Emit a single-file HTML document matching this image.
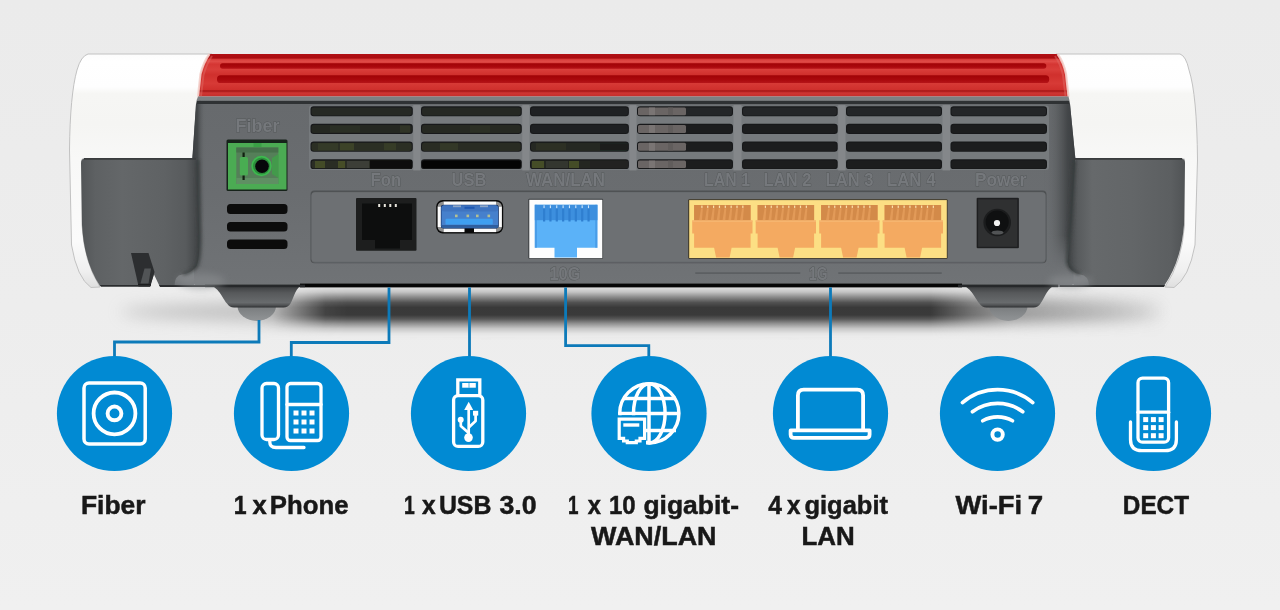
<!DOCTYPE html>
<html><head><meta charset="utf-8"><title>Router ports</title>
<style>html,body{margin:0;padding:0;background:#ececec;overflow:hidden}svg{display:block}text{font-family:"Liberation Sans",sans-serif;font-weight:bold}</style></head><body>
<svg width="1280" height="610" viewBox="0 0 1280 610">
<defs>
<linearGradient id="gRed" x1="0" y1="54" x2="0" y2="96.6" gradientUnits="userSpaceOnUse"><stop offset="0" stop-color="#b01014"/><stop offset="0.095" stop-color="#ab0c10"/><stop offset="0.125" stop-color="#d63a37"/><stop offset="0.17" stop-color="#e04c48"/><stop offset="0.24" stop-color="#d53633"/><stop offset="0.36" stop-color="#d93e3a"/><stop offset="0.49" stop-color="#d0302d"/><stop offset="0.69" stop-color="#d73a36"/><stop offset="0.84" stop-color="#cf2f2c"/><stop offset="0.86" stop-color="#ab1a1a"/><stop offset="0.89" stop-color="#b22121"/><stop offset="0.91" stop-color="#cf3633"/><stop offset="1" stop-color="#c42e2c"/></linearGradient>
<linearGradient id="gGroove" x1="0" y1="0" x2="0" y2="1"><stop offset="0" stop-color="#a00306"/><stop offset="0.6" stop-color="#aa090d"/><stop offset="1" stop-color="#b61418"/></linearGradient>
<linearGradient id="gShadow" x1="0" y1="0" x2="0" y2="1"><stop offset="0" stop-color="#e2e2e2"/><stop offset="0.10" stop-color="#c4c4c4"/><stop offset="0.20" stop-color="#8c8c8c"/><stop offset="0.31" stop-color="#525252"/><stop offset="0.41" stop-color="#393939"/><stop offset="0.56" stop-color="#3a3a3a"/><stop offset="0.64" stop-color="#585858"/><stop offset="0.73" stop-color="#909090"/><stop offset="0.83" stop-color="#c6c6c6"/><stop offset="0.93" stop-color="#e4e4e4"/><stop offset="1" stop-color="#ededed"/></linearGradient>
<linearGradient id="gShMask" x1="250" y1="0" x2="1170" y2="0" gradientUnits="userSpaceOnUse"><stop offset="0" stop-color="#000"/><stop offset="0.025" stop-color="#222"/><stop offset="0.048" stop-color="#777"/><stop offset="0.082" stop-color="#eee"/><stop offset="0.105" stop-color="#fff"/><stop offset="0.74" stop-color="#fff"/><stop offset="0.785" stop-color="#999"/><stop offset="0.83" stop-color="#4a4a4a"/><stop offset="0.88" stop-color="#333"/><stop offset="0.94" stop-color="#1a1a1a"/><stop offset="1" stop-color="#000"/></linearGradient>
<linearGradient id="gEdgeM" x1="0" y1="104" x2="0" y2="286" gradientUnits="userSpaceOnUse"><stop offset="0" stop-color="#fff"/><stop offset="0.72" stop-color="#fff"/><stop offset="0.9" stop-color="#000"/><stop offset="1" stop-color="#000"/></linearGradient>
<mask id="mEdge" maskUnits="userSpaceOnUse" x="190" y="100" width="900" height="190"><rect x="190" y="100" width="900" height="190" fill="url(#gEdgeM)"/></mask>
<mask id="mSh" maskUnits="userSpaceOnUse" x="240" y="280" width="940" height="70"><rect x="250" y="280" width="920" height="70" fill="url(#gShMask)"/></mask>
<filter id="blur8" x="-20%" y="-50%" width="140%" height="200%"><feGaussianBlur stdDeviation="8"/></filter>
<filter id="blur3" x="-40%" y="-100%" width="180%" height="300%"><feGaussianBlur stdDeviation="3"/></filter>
<filter id="blurE" filterUnits="userSpaceOnUse" x="150" y="140" width="960" height="170"><feGaussianBlur stdDeviation="1.6"/></filter>
<filter id="blurH" filterUnits="userSpaceOnUse" x="140" y="240" width="1000" height="70"><feGaussianBlur stdDeviation="3.5"/></filter>
<filter id="blur1" x="-10%" y="-10%" width="120%" height="120%"><feGaussianBlur stdDeviation="0.6"/></filter>
<linearGradient id="gSideL" x1="81" y1="0" x2="200" y2="0" gradientUnits="userSpaceOnUse"><stop offset="0" stop-color="#525557"/><stop offset="0.12" stop-color="#5e6163"/><stop offset="0.35" stop-color="#646769"/><stop offset="0.7" stop-color="#5f6264"/><stop offset="0.88" stop-color="#585b5d"/><stop offset="0.955" stop-color="#484b4d"/><stop offset="1" stop-color="#3f4244"/></linearGradient>
<linearGradient id="gSideR" x1="1185" y1="0" x2="1066" y2="0" gradientUnits="userSpaceOnUse"><stop offset="0" stop-color="#505355"/><stop offset="0.12" stop-color="#5c5f61"/><stop offset="0.45" stop-color="#636668"/><stop offset="0.78" stop-color="#66696b"/><stop offset="0.9" stop-color="#585b5d"/><stop offset="0.96" stop-color="#484b4d"/><stop offset="1" stop-color="#3f4244"/></linearGradient>
<linearGradient id="gEdgeL" x1="193" y1="0" x2="206" y2="0" gradientUnits="userSpaceOnUse"><stop offset="0" stop-color="#3b3e40" stop-opacity="1"/><stop offset="0.35" stop-color="#3f4244" stop-opacity="0.85"/><stop offset="1" stop-color="#6c7072" stop-opacity="0"/></linearGradient>
<linearGradient id="gEdgeR" x1="1075" y1="0" x2="1044" y2="0" gradientUnits="userSpaceOnUse"><stop offset="0" stop-color="#3b3e40" stop-opacity="1"/><stop offset="0.25" stop-color="#404345" stop-opacity="0.9"/><stop offset="0.6" stop-color="#55585a" stop-opacity="0.5"/><stop offset="1" stop-color="#6c7072" stop-opacity="0"/></linearGradient>
<linearGradient id="gCap" x1="0" y1="54" x2="0" y2="288" gradientUnits="userSpaceOnUse"><stop offset="0" stop-color="#fcfcfc"/><stop offset="0.03" stop-color="#ffffff"/><stop offset="0.14" stop-color="#fefefe"/><stop offset="0.17" stop-color="#f6f6f4"/><stop offset="0.3" stop-color="#f5f5f3"/><stop offset="0.45" stop-color="#f8f8f7"/><stop offset="0.8" stop-color="#fbfbfb"/><stop offset="0.93" stop-color="#efefef"/><stop offset="1" stop-color="#dedede"/></linearGradient>
<linearGradient id="gLip" x1="0" y1="270" x2="0" y2="287" gradientUnits="userSpaceOnUse"><stop offset="0" stop-color="#808386"/><stop offset="0.5" stop-color="#797c7f"/><stop offset="1" stop-color="#6c6f72"/></linearGradient>
<linearGradient id="gFoot" x1="0" y1="0" x2="0" y2="1"><stop offset="0" stop-color="#36383a"/><stop offset="0.35" stop-color="#57595b"/><stop offset="0.78" stop-color="#686b6d"/><stop offset="0.9" stop-color="#505254"/><stop offset="1" stop-color="#2e3032"/></linearGradient>
<linearGradient id="gBall" x1="0" y1="0" x2="0" y2="1"><stop offset="0" stop-color="#6c6f71"/><stop offset="0.5" stop-color="#787b7d"/><stop offset="1" stop-color="#929597"/></linearGradient>
<linearGradient id="gBody" x1="0" y1="0" x2="0" y2="1"><stop offset="0" stop-color="#676a6d"/><stop offset="0.5" stop-color="#6a6d70"/><stop offset="1" stop-color="#707376"/></linearGradient>
<linearGradient id="gBg" x1="0" y1="0" x2="0" y2="1"><stop offset="0" stop-color="#ebebeb"/><stop offset="0.5" stop-color="#ededed"/><stop offset="1" stop-color="#f0f0f0"/></linearGradient>
</defs>
<rect width="1280" height="610" fill="url(#gBg)"/>
<ellipse cx="640" cy="312" rx="520" ry="14" fill="#9a9a9a" opacity="0.55" filter="url(#blur8)"/>
<g mask="url(#mSh)"><rect x="250" y="287" width="920" height="50" fill="url(#gShadow)"/></g>
<path d="M88 54 L212 54 L200 100 L194 159 L82 159 L82 225 Q84 262 100 287 L91 287.5 Q77 278 71.5 245 L69.5 150 Q70 95 77 70 Q81 56 88 54 Z" fill="url(#gCap)" stroke="#c2c2c2" stroke-width="1"/>
<path d="M1180 54 L1056 54 L1067 100 L1074 159 L1184.5 159 L1184.5 225 Q1182 262 1165 287 L1174 287.5 Q1189 278 1195 245 L1197.5 160 Q1197 95 1189 70 Q1186 56 1180 54 Z" fill="url(#gCap)" stroke="#c2c2c2" stroke-width="1"/>
<ellipse cx="256.75" cy="306" rx="19.25" ry="15" fill="url(#gBall)"/>
<path d="M208 285 C218.45 286 222.25 298 227 303.5 Q229.5 307.5 234 307.5 L283.5 307.5 Q288 307.5 290.5 303.5 C293.625 298 296.125 286 303 285 Z" fill="url(#gFoot)"/>
<ellipse cx="1008.25" cy="306" rx="19.25" ry="15" fill="url(#gBall)"/>
<path d="M960 285 C970.725 286 974.625 298 979.5 303.5 Q982 307.5 986.5 307.5 L1033.5 307.5 Q1038 307.5 1040.5 303.5 C1044.62 298 1047.92 286 1057 285 Z" fill="url(#gFoot)"/>
<path d="M209.5 54 L1057.5 54 Q1063.5 62 1066 74 L1068.5 96.6 L198 96.6 L200.5 74 Q203.5 62 209.5 54 Z" fill="url(#gRed)"/>
<rect x="220" y="63.3" width="826.3" height="5.5" rx="2.7" fill="url(#gGroove)"/>
<rect x="217" y="75.2" width="832.2" height="7.8" rx="3.6" fill="url(#gGroove)"/>
<path d="M209.5 54 Q203.5 62 200.5 74 L198 96.6" fill="none" stroke="#f3cfca" stroke-width="2.2" opacity="0.9"/>
<path d="M1057.5 54 Q1063.5 62 1066 74 L1068.5 96.6" fill="none" stroke="#f3cfca" stroke-width="2.2" opacity="0.9"/>
<path d="M212 56 Q206.5 64 203.5 75 L201 96" fill="none" stroke="#e06a64" stroke-width="2" opacity="0.5"/>
<path d="M1055 56 Q1060.5 64 1063 75 L1065.5 96" fill="none" stroke="#e06a64" stroke-width="2" opacity="0.5"/>
<path d="M198 96.5 L1068.5 96.5 L1069.5 100.6 L196.5 100.6 Z" fill="#7c8083"/>
<path d="M196.8 100.4 L1069.3 100.4 L1070 104.6 L196 104.6 Z" fill="#2f3234"/>
<clipPath id="cBody"><path d="M196 104 L1070 104 L1075.3 158 L1074.5 284 L1066 287 L200 287 L193 284 L192.4 158 Z"/></clipPath>
<path d="M196 104 L1070 104 L1075.3 158 L1074.5 284 L1066 287 L200 287 L193 284 L192.4 158 Z" fill="url(#gBody)"/>
<g clip-path="url(#cBody)"><g mask="url(#mEdge)"><rect x="192" y="104" width="18" height="181" fill="url(#gEdgeL)"/>
<rect x="1044" y="104" width="32" height="181" fill="url(#gEdgeR)"/></g></g>
<rect x="300" y="283.6" width="662" height="3.8" fill="#060606"/>
<rect x="205" y="284.6" width="100" height="2.6" fill="#26282a"/>
<rect x="958" y="284.6" width="100" height="2.6" fill="#26282a"/>
<path d="M194 287 L194 258 L172 270 L172 287 Z" fill="url(#gLip)"/>
<path d="M1073.5 287 L1073.5 258 L1092 270 L1092 287 Z" fill="url(#gLip)"/>
<path d="M85 158.5 L192.4 158.5 L197 158.5 L199.5 240 Q199.5 262 196 267 Q190 274 182 274.5 Q174.5 275.5 174.5 286 L159.5 286 L154 274.5 L150 286 L100 286 Q84 262 82 225 L81 163 Q81 158.5 85 158.5 Z" fill="url(#gSideL)"/>
<path d="M197.5 160 L199.5 240 Q199.5 262 196 267 Q190 273 183 274" fill="none" stroke="#393c3e" stroke-width="4" opacity="0.75" filter="url(#blurE)"/>
<path d="M131 253 L148.5 253 L154.5 272 L150.5 286 L138.5 286 Z" fill="#2c2e30"/>
<path d="M144.5 268.5 L151 268.5 L148.5 283.5 L140.5 283.5 Z" fill="#515456"/>
<path d="M138 284 L151 284 L150.5 286.6 L138.5 286.6 Z" fill="#1d1e1f"/>
<path d="M1181 158.5 L1075.3 158.5 L1071.5 220 Q1068 255 1067.5 262 Q1069 272 1080 274.5 Q1089 275.5 1089 286 L1164 286 Q1181 262 1184 225 L1185 163 Q1185 158.5 1181 158.5 Z" fill="url(#gSideR)"/>
<path d="M1074.5 160 L1071 220 Q1068 250 1067.5 262 Q1069 271 1080 274" fill="none" stroke="#393c3e" stroke-width="4" opacity="0.75" filter="url(#blurE)"/>
<rect x="84" y="158" width="112" height="1.8" fill="#3a3c3e"/>
<rect x="1074" y="158" width="108" height="1.8" fill="#3a3c3e"/>
<path d="M100 285 L150 285 L150 286.8 L101 286.8 Z" fill="#2a2c2e"/>
<path d="M159 285 L215 285 L215 287 L160 287 Z" fill="#2a2c2e"/>
<path d="M1060 285 L1165 285 L1164 287 L1060 287 Z" fill="#2a2c2e"/>
<ellipse cx="201" cy="281" rx="24" ry="7.5" fill="#8a8d90" opacity="0.6" filter="url(#blurH)"/>
<ellipse cx="1070" cy="281.5" rx="22" ry="6.5" fill="#8a8d90" opacity="0.6" filter="url(#blurH)"/>
<rect x="309" y="105.5" width="740" height="64.5" rx="3" fill="#767a7d" filter="url(#blur1)"/>
<rect x="413.3" y="105" width="7.2" height="65.5" fill="#8a8d90" opacity="0.7"/>
<rect x="522.3" y="105" width="7.2" height="65.5" fill="#8a8d90" opacity="0.7"/>
<rect x="629.4" y="105" width="7.1" height="65.5" fill="#8a8d90" opacity="0.7"/>
<rect x="733.5" y="105" width="8" height="65.5" fill="#8a8d90" opacity="0.7"/>
<rect x="838.2" y="105" width="7.3" height="65.5" fill="#8a8d90" opacity="0.7"/>
<rect x="942.5" y="105" width="7.5" height="65.5" fill="#8a8d90" opacity="0.7"/>
<rect x="310.5" y="106.2" width="102.3" height="10" rx="3.2" fill="#17181a"/>
<rect x="311.5" y="107.4" width="100.3" height="8" rx="2.4" fill="#262924"/>
<rect x="310.5" y="123.8" width="102.3" height="10.1" rx="3.2" fill="#17181a"/>
<rect x="311.5" y="125" width="100.3" height="8.1" rx="2.4" fill="#242721"/>
<rect x="310.5" y="141.6" width="102.3" height="10.2" rx="3.2" fill="#17181a"/>
<rect x="311.5" y="142.8" width="100.3" height="8.2" rx="2.4" fill="#2b2f24"/>
<rect x="310.5" y="159.3" width="102.3" height="9.8" rx="3.2" fill="#17181a"/>
<rect x="311.5" y="160.5" width="100.3" height="7.8" rx="2.4" fill="#2a2d24"/>
<rect x="421" y="106.2" width="100.8" height="10" rx="3.2" fill="#17181a"/>
<rect x="422" y="107.4" width="98.8" height="8" rx="2.4" fill="#252823"/>
<rect x="421" y="123.8" width="100.8" height="10.1" rx="3.2" fill="#17181a"/>
<rect x="422" y="125" width="98.8" height="8.1" rx="2.4" fill="#262922"/>
<rect x="421" y="141.6" width="100.8" height="10.2" rx="3.2" fill="#17181a"/>
<rect x="422" y="142.8" width="98.8" height="8.2" rx="2.4" fill="#292c23"/>
<rect x="421" y="159.3" width="100.8" height="9.8" rx="3.2" fill="#17181a"/>
<rect x="422" y="160.5" width="98.8" height="7.8" rx="2.4" fill="#040404"/>
<rect x="530" y="106.2" width="98.9" height="10" rx="3.2" fill="#17181a"/>
<rect x="531" y="107.4" width="96.9" height="8" rx="2.4" fill="#1f2123"/>
<rect x="530" y="123.8" width="98.9" height="10.1" rx="3.2" fill="#17181a"/>
<rect x="531" y="125" width="96.9" height="8.1" rx="2.4" fill="#1e2022"/>
<rect x="530" y="141.6" width="98.9" height="10.2" rx="3.2" fill="#17181a"/>
<rect x="531" y="142.8" width="96.9" height="8.2" rx="2.4" fill="#252822"/>
<rect x="530" y="159.3" width="98.9" height="9.8" rx="3.2" fill="#17181a"/>
<rect x="531" y="160.5" width="96.9" height="7.8" rx="2.4" fill="#242721"/>
<rect x="637" y="106.2" width="96" height="10" rx="3.2" fill="#17181a"/>
<rect x="638" y="107.4" width="94" height="8" rx="2.4" fill="#242628"/>
<rect x="637" y="123.8" width="96" height="10.1" rx="3.2" fill="#17181a"/>
<rect x="638" y="125" width="94" height="8.1" rx="2.4" fill="#1c1d1e"/>
<rect x="637" y="141.6" width="96" height="10.2" rx="3.2" fill="#17181a"/>
<rect x="638" y="142.8" width="94" height="8.2" rx="2.4" fill="#1c1d1e"/>
<rect x="637" y="159.3" width="96" height="9.8" rx="3.2" fill="#17181a"/>
<rect x="638" y="160.5" width="94" height="7.8" rx="2.4" fill="#1c1d1e"/>
<rect x="742" y="106.2" width="95.7" height="10" rx="3.2" fill="#17181a"/>
<rect x="743" y="107.4" width="93.7" height="8" rx="2.4" fill="#242628"/>
<rect x="742" y="123.8" width="95.7" height="10.1" rx="3.2" fill="#17181a"/>
<rect x="743" y="125" width="93.7" height="8.1" rx="2.4" fill="#1c1d1e"/>
<rect x="742" y="141.6" width="95.7" height="10.2" rx="3.2" fill="#17181a"/>
<rect x="743" y="142.8" width="93.7" height="8.2" rx="2.4" fill="#1c1d1e"/>
<rect x="742" y="159.3" width="95.7" height="9.8" rx="3.2" fill="#17181a"/>
<rect x="743" y="160.5" width="93.7" height="7.8" rx="2.4" fill="#1c1d1e"/>
<rect x="846" y="106.2" width="96" height="10" rx="3.2" fill="#17181a"/>
<rect x="847" y="107.4" width="94" height="8" rx="2.4" fill="#242628"/>
<rect x="846" y="123.8" width="96" height="10.1" rx="3.2" fill="#17181a"/>
<rect x="847" y="125" width="94" height="8.1" rx="2.4" fill="#1c1d1e"/>
<rect x="846" y="141.6" width="96" height="10.2" rx="3.2" fill="#17181a"/>
<rect x="847" y="142.8" width="94" height="8.2" rx="2.4" fill="#1c1d1e"/>
<rect x="846" y="159.3" width="96" height="9.8" rx="3.2" fill="#17181a"/>
<rect x="847" y="160.5" width="94" height="7.8" rx="2.4" fill="#1c1d1e"/>
<rect x="950.5" y="106.2" width="96.5" height="10" rx="3.2" fill="#17181a"/>
<rect x="951.5" y="107.4" width="94.5" height="8" rx="2.4" fill="#242628"/>
<rect x="950.5" y="123.8" width="96.5" height="10.1" rx="3.2" fill="#17181a"/>
<rect x="951.5" y="125" width="94.5" height="8.1" rx="2.4" fill="#1c1d1e"/>
<rect x="950.5" y="141.6" width="96.5" height="10.2" rx="3.2" fill="#17181a"/>
<rect x="951.5" y="142.8" width="94.5" height="8.2" rx="2.4" fill="#1c1d1e"/>
<rect x="950.5" y="159.3" width="96.5" height="9.8" rx="3.2" fill="#17181a"/>
<rect x="951.5" y="160.5" width="94.5" height="7.8" rx="2.4" fill="#1c1d1e"/>
<rect x="315" y="161" width="10" height="7" fill="#6d7c2e" opacity="0.38" filter="url(#blur1)"/>
<rect x="338" y="161" width="7" height="7" fill="#74832f" opacity="0.38" filter="url(#blur1)"/>
<rect x="347" y="161" width="22" height="7" fill="#5a5c58" opacity="0.38" filter="url(#blur1)"/>
<rect x="370" y="160.5" width="42" height="8.2" fill="#0a0a0a" opacity="1" filter="url(#blur1)"/>
<rect x="318" y="143.2" width="20" height="7" fill="#4a5230" opacity="0.304" filter="url(#blur1)"/>
<rect x="340" y="143.2" width="14" height="7" fill="#5f6c30" opacity="0.342" filter="url(#blur1)"/>
<rect x="384" y="143.2" width="12" height="7" fill="#566030" opacity="0.266" filter="url(#blur1)"/>
<rect x="330" y="125.5" width="30" height="7" fill="#3e4430" opacity="0.266" filter="url(#blur1)"/>
<rect x="400" y="125.5" width="10" height="7" fill="#4b5331" opacity="0.304" filter="url(#blur1)"/>
<rect x="440" y="143.2" width="18" height="7" fill="#505a30" opacity="0.266" filter="url(#blur1)"/>
<rect x="470" y="125.5" width="20" height="7" fill="#434a30" opacity="0.228" filter="url(#blur1)"/>
<rect x="532" y="161" width="12" height="7" fill="#7c8c30" opacity="0.38" filter="url(#blur1)"/>
<rect x="569" y="161" width="10" height="7" fill="#7a8a30" opacity="0.38" filter="url(#blur1)"/>
<rect x="546" y="161" width="22" height="7" fill="#55584f" opacity="0.304" filter="url(#blur1)"/>
<rect x="600" y="143.2" width="28" height="7" fill="#1c1e1f" opacity="0.9" filter="url(#blur1)"/>
<rect x="590" y="161" width="38" height="7" fill="#202223" opacity="0.8" filter="url(#blur1)"/>
<rect x="536" y="143.2" width="30" height="7" fill="#48502f" opacity="0.228" filter="url(#blur1)"/>
<rect x="638" y="107.4" width="48" height="7.8" rx="1.5" fill="#6a6564"/>
<rect x="649" y="107.4" width="6" height="7.8" fill="#7e7978" opacity="0.8"/>
<rect x="668" y="107.4" width="5" height="7.8" fill="#5f5b5a" opacity="0.8"/>
<rect x="638" y="125" width="48" height="7.9" rx="1.5" fill="#6a6564"/>
<rect x="649" y="125" width="6" height="7.9" fill="#7e7978" opacity="0.8"/>
<rect x="668" y="125" width="5" height="7.9" fill="#5f5b5a" opacity="0.8"/>
<rect x="638" y="142.8" width="48" height="8" rx="1.5" fill="#6a6564"/>
<rect x="649" y="142.8" width="6" height="8" fill="#7e7978" opacity="0.8"/>
<rect x="668" y="142.8" width="5" height="8" fill="#5f5b5a" opacity="0.8"/>
<rect x="638" y="160.5" width="48" height="7.6" rx="1.5" fill="#6a6564"/>
<rect x="649" y="160.5" width="6" height="7.6" fill="#7e7978" opacity="0.8"/>
<rect x="668" y="160.5" width="5" height="7.6" fill="#5f5b5a" opacity="0.8"/>
<rect x="227" y="204" width="60.5" height="10" rx="3.5" fill="#0c0c0c"/>
<rect x="227" y="222" width="60.5" height="9.6" rx="3.5" fill="#0c0c0c"/>
<rect x="227" y="239.6" width="60.5" height="9.4" rx="3.5" fill="#0c0c0c"/>
<rect x="310.5" y="190.6" width="736" height="72.6" rx="4" fill="#4f5254"/>
<rect x="311.5" y="192.2" width="734" height="70.6" rx="3.5" fill="#626568"/>
<rect x="311.5" y="192.2" width="734" height="69.6" rx="3.5" fill="#6d7073"/>
<text x="235.5" y="132" font-size="19" textLength="44" lengthAdjust="spacingAndGlyphs" fill="#75787b" stroke="#525558" stroke-width="1" stroke-opacity="0.9" paint-order="stroke" style="font-weight:bold" filter="url(#blur1)">Fiber</text>
<text x="370.5" y="186.3" font-size="19" textLength="30.7" lengthAdjust="spacingAndGlyphs" fill="#75787b" stroke="#525558" stroke-width="1" stroke-opacity="0.9" paint-order="stroke" style="font-weight:bold" filter="url(#blur1)">Fon</text>
<text x="451.5" y="186.3" font-size="19" textLength="34.8" lengthAdjust="spacingAndGlyphs" fill="#75787b" stroke="#525558" stroke-width="1" stroke-opacity="0.9" paint-order="stroke" style="font-weight:bold" filter="url(#blur1)">USB</text>
<text x="526" y="186.3" font-size="19" textLength="79" lengthAdjust="spacingAndGlyphs" fill="#75787b" stroke="#525558" stroke-width="1" stroke-opacity="0.9" paint-order="stroke" style="font-weight:bold" filter="url(#blur1)">WAN/LAN</text>
<text x="704" y="186.3" font-size="19" textLength="46" lengthAdjust="spacingAndGlyphs" fill="#75787b" stroke="#525558" stroke-width="1" stroke-opacity="0.9" paint-order="stroke" style="font-weight:bold" filter="url(#blur1)">LAN 1</text>
<text x="763.5" y="186.3" font-size="19" textLength="48" lengthAdjust="spacingAndGlyphs" fill="#75787b" stroke="#525558" stroke-width="1" stroke-opacity="0.9" paint-order="stroke" style="font-weight:bold" filter="url(#blur1)">LAN 2</text>
<text x="825.5" y="186.3" font-size="19" textLength="48" lengthAdjust="spacingAndGlyphs" fill="#75787b" stroke="#525558" stroke-width="1" stroke-opacity="0.9" paint-order="stroke" style="font-weight:bold" filter="url(#blur1)">LAN 3</text>
<text x="887" y="186.3" font-size="19" textLength="48.5" lengthAdjust="spacingAndGlyphs" fill="#75787b" stroke="#525558" stroke-width="1" stroke-opacity="0.9" paint-order="stroke" style="font-weight:bold" filter="url(#blur1)">LAN 4</text>
<text x="975" y="186.3" font-size="19" textLength="51.5" lengthAdjust="spacingAndGlyphs" fill="#75787b" stroke="#525558" stroke-width="1" stroke-opacity="0.9" paint-order="stroke" style="font-weight:bold" filter="url(#blur1)">Power</text>
<text x="549.5" y="279.6" font-size="18" textLength="31" lengthAdjust="spacingAndGlyphs" fill="#75787b" stroke="#525558" stroke-width="1" stroke-opacity="0.9" paint-order="stroke" style="font-weight:bold" filter="url(#blur1)">10G</text>
<text x="809" y="279.6" font-size="18" textLength="18.5" lengthAdjust="spacingAndGlyphs" fill="#75787b" stroke="#525558" stroke-width="1" stroke-opacity="0.9" paint-order="stroke" style="font-weight:bold" filter="url(#blur1)">1G</text>
<rect x="695" y="272.3" width="105.5" height="1.6" rx="0.8" fill="#5c5f62"/>
<rect x="838" y="272.3" width="104" height="1.6" rx="0.8" fill="#5c5f62"/>
<rect x="226.5" y="139.5" width="61" height="51.5" rx="1.5" fill="#16231a"/>
<rect x="228" y="143" width="58.5" height="46.5" fill="#4bab53"/>
<rect x="236.3" y="147.5" width="42" height="36.5" fill="#557f59"/>
<rect x="236.3" y="147.5" width="42" height="5" fill="#47704b"/>
<rect x="236.3" y="178" width="42" height="6" fill="#5f8f63"/>
<rect x="253.5" y="143" width="8" height="4" fill="#3a9f46"/>
<rect x="239.8" y="157" width="8.2" height="18.5" rx="1.5" fill="#49ad52"/>
<rect x="242.5" y="152.5" width="2.2" height="4.5" fill="#10200f"/>
<rect x="242.5" y="175.5" width="2.2" height="4.5" fill="#10200f"/>
<path d="M272 158 L278.3 154 L278.3 178 L272 174 Z" fill="#439a4b"/>
<circle cx="261.5" cy="166" r="10.2" fill="#3dba4f"/>
<circle cx="261.5" cy="166" r="8.6" fill="#2d8f3c"/>
<circle cx="262" cy="166.3" r="6.8" fill="#07070a"/>
<rect x="356" y="198" width="60.5" height="52.8" rx="1" fill="#1d1e1e"/>
<path d="M362 203.5 L412 203.5 L412 240 L400 240 L400 248.5 L375 248.5 L375 240 L362 240 Z" fill="#0d0e0e"/>
<rect x="378.2" y="204" width="2" height="3" fill="#e9e7de"/>
<rect x="383.8" y="204" width="2" height="3" fill="#e9e7de"/>
<rect x="389.3" y="204" width="2" height="3" fill="#e9e7de"/>
<rect x="394.8" y="204" width="2" height="3" fill="#e9e7de"/>
<rect x="436.2" y="200.1" width="67" height="33.4" rx="6.5" fill="#0a0a0a"/>
<rect x="443.5" y="201.5" width="52.5" height="3.6" fill="#fbfbfb"/>
<rect x="443.5" y="228.3" width="21" height="3.8" fill="#fbfbfb"/>
<rect x="474" y="228.3" width="22" height="3.8" fill="#fbfbfb"/>
<rect x="437.6" y="206.5" width="3.6" height="20.5" fill="#fbfbfb"/>
<rect x="498.3" y="206.5" width="3.6" height="20.5" fill="#fbfbfb"/>
<path d="M443.5 201.5 Q438 202 437.6 206.5 L441.2 206.5 Q441.5 205.1 443.5 205.1 Z" fill="#fbfbfb" opacity="0.55"/>
<path d="M496 201.5 Q501.5 202 501.9 206.5 L498.3 206.5 Q498 205.1 496 205.1 Z" fill="#fbfbfb" opacity="0.55"/>
<path d="M443.5 232.1 Q438 231.6 437.6 227 L441.2 227 Q441.5 228.3 443.5 228.3 Z" fill="#fbfbfb" opacity="0.55"/>
<path d="M496 232.1 Q501.5 231.6 501.9 227 L498.3 227 Q498 228.3 496 228.3 Z" fill="#fbfbfb" opacity="0.55"/>
<rect x="440.8" y="204.8" width="58" height="23.6" rx="3" fill="#1f3f78"/>
<rect x="441.6" y="205.4" width="56.4" height="22.4" rx="2.5" fill="#4680cc"/>
<rect x="441.6" y="205.4" width="56.4" height="6" rx="2.5" fill="#3f74c0"/>
<rect x="445.5" y="218.8" width="47.3" height="5.8" rx="1.2" fill="#3f9ff0"/>
<rect x="441.6" y="225" width="56.4" height="2.8" fill="#2f5f9f"/>
<rect x="455" y="214.6" width="2.6" height="2.6" fill="#b4c092"/>
<rect x="466.5" y="214.6" width="2.6" height="2.6" fill="#b4c092"/>
<rect x="476" y="214.6" width="2.6" height="2.6" fill="#b4c092"/>
<rect x="487.5" y="214.6" width="2.6" height="2.6" fill="#b4c092"/>
<rect x="464.5" y="206.8" width="10" height="2" fill="#1f58b2"/>
<rect x="453" y="205.4" width="8" height="1.8" fill="#8ea7c8"/>
<rect x="480" y="205.4" width="8" height="1.8" fill="#8ea7c8"/>
<rect x="528.3" y="198.8" width="74.8" height="60" rx="1" fill="#3b3e40"/>
<rect x="529.3" y="199.8" width="73" height="58.3" fill="#fdfdfd"/>
<path d="M534.8 204.8 L597.4 204.8 L597.4 247.7 L577 247.7 L577 257.6 L554.5 257.6 L554.5 247.7 L534.8 247.7 Z" fill="#5bb2f8"/>
<rect x="534.8" y="204.8" width="62.6" height="15.4" fill="#3d8fde"/>
<rect x="543.5" y="205.3" width="1.1" height="3" fill="#cfe6fb"/>
<rect x="543" y="208.5" width="2.2" height="13" fill="#2f7fd0"/>
<rect x="549.85" y="205.3" width="1.1" height="3" fill="#cfe6fb"/>
<rect x="549.35" y="208.5" width="2.2" height="13" fill="#2f7fd0"/>
<rect x="556.2" y="205.3" width="1.1" height="3" fill="#cfe6fb"/>
<rect x="555.7" y="208.5" width="2.2" height="13" fill="#2f7fd0"/>
<rect x="562.55" y="205.3" width="1.1" height="3" fill="#cfe6fb"/>
<rect x="562.05" y="208.5" width="2.2" height="13" fill="#2f7fd0"/>
<rect x="568.9" y="205.3" width="1.1" height="3" fill="#cfe6fb"/>
<rect x="568.4" y="208.5" width="2.2" height="13" fill="#2f7fd0"/>
<rect x="575.25" y="205.3" width="1.1" height="3" fill="#cfe6fb"/>
<rect x="574.75" y="208.5" width="2.2" height="13" fill="#2f7fd0"/>
<rect x="581.6" y="205.3" width="1.1" height="3" fill="#cfe6fb"/>
<rect x="581.1" y="208.5" width="2.2" height="13" fill="#2f7fd0"/>
<rect x="587.95" y="205.3" width="1.1" height="3" fill="#cfe6fb"/>
<rect x="587.45" y="208.5" width="2.2" height="13" fill="#2f7fd0"/>
<rect x="534.8" y="204.8" width="2.2" height="43" fill="#3d8fde" opacity="0.6"/>
<rect x="595.2" y="204.8" width="2.2" height="43" fill="#3d8fde" opacity="0.6"/>
<rect x="688.2" y="199.2" width="259.4" height="59.6" rx="1" fill="#3e3623"/>
<rect x="689.2" y="200.1" width="257.6" height="57.9" fill="#fcdf84"/>
<path d="M694.1 205 L750.6 205 L750.6 220.4 L752.5 220.4 L752.5 233.6 L750.6 233.6 L750.6 247.7 L731.6 247.7 L729.6 257.6 L716.1 257.6 L714.1 247.7 L694.1 247.7 L694.1 233.6 L692.2 233.6 L692.2 220.4 L694.1 220.4 Z" fill="#f4aa61"/>
<rect x="694.1" y="205" width="56.5" height="15.4" fill="#d38a49"/>
<rect x="701.3" y="205.6" width="1.2" height="2.3" fill="#fbe3b0"/>
<path d="M701.1 208.2 L702.9 208.2 L701.9 220.4 L699.1 220.4 Z" fill="#e29a58"/>
<rect x="707.15" y="205.6" width="1.2" height="2.3" fill="#fbe3b0"/>
<path d="M706.95 208.2 L708.75 208.2 L707.75 220.4 L704.95 220.4 Z" fill="#e29a58"/>
<rect x="713" y="205.6" width="1.2" height="2.3" fill="#fbe3b0"/>
<path d="M712.8 208.2 L714.6 208.2 L713.6 220.4 L710.8 220.4 Z" fill="#e29a58"/>
<rect x="718.85" y="205.6" width="1.2" height="2.3" fill="#fbe3b0"/>
<path d="M718.65 208.2 L720.45 208.2 L719.45 220.4 L716.65 220.4 Z" fill="#e29a58"/>
<rect x="724.7" y="205.6" width="1.2" height="2.3" fill="#fbe3b0"/>
<path d="M724.5 208.2 L726.3 208.2 L725.3 220.4 L722.5 220.4 Z" fill="#e29a58"/>
<rect x="730.55" y="205.6" width="1.2" height="2.3" fill="#fbe3b0"/>
<path d="M730.35 208.2 L732.15 208.2 L731.15 220.4 L728.35 220.4 Z" fill="#e29a58"/>
<rect x="736.4" y="205.6" width="1.2" height="2.3" fill="#fbe3b0"/>
<path d="M736.2 208.2 L738 208.2 L737 220.4 L734.2 220.4 Z" fill="#e29a58"/>
<rect x="742.25" y="205.6" width="1.2" height="2.3" fill="#fbe3b0"/>
<path d="M742.05 208.2 L743.85 208.2 L742.85 220.4 L740.05 220.4 Z" fill="#e29a58"/>
<rect x="692.2" y="220.4" width="60.3" height="1.4" fill="#f7b873"/>
<path d="M757.6 205 L814.1 205 L814.1 220.4 L816 220.4 L816 233.6 L814.1 233.6 L814.1 247.7 L795.1 247.7 L793.1 257.6 L779.6 257.6 L777.6 247.7 L757.6 247.7 L757.6 233.6 L755.7 233.6 L755.7 220.4 L757.6 220.4 Z" fill="#f4aa61"/>
<rect x="757.6" y="205" width="56.5" height="15.4" fill="#d38a49"/>
<rect x="764.8" y="205.6" width="1.2" height="2.3" fill="#fbe3b0"/>
<path d="M764.6 208.2 L766.4 208.2 L765.4 220.4 L762.6 220.4 Z" fill="#e29a58"/>
<rect x="770.65" y="205.6" width="1.2" height="2.3" fill="#fbe3b0"/>
<path d="M770.45 208.2 L772.25 208.2 L771.25 220.4 L768.45 220.4 Z" fill="#e29a58"/>
<rect x="776.5" y="205.6" width="1.2" height="2.3" fill="#fbe3b0"/>
<path d="M776.3 208.2 L778.1 208.2 L777.1 220.4 L774.3 220.4 Z" fill="#e29a58"/>
<rect x="782.35" y="205.6" width="1.2" height="2.3" fill="#fbe3b0"/>
<path d="M782.15 208.2 L783.95 208.2 L782.95 220.4 L780.15 220.4 Z" fill="#e29a58"/>
<rect x="788.2" y="205.6" width="1.2" height="2.3" fill="#fbe3b0"/>
<path d="M788 208.2 L789.8 208.2 L788.8 220.4 L786 220.4 Z" fill="#e29a58"/>
<rect x="794.05" y="205.6" width="1.2" height="2.3" fill="#fbe3b0"/>
<path d="M793.85 208.2 L795.65 208.2 L794.65 220.4 L791.85 220.4 Z" fill="#e29a58"/>
<rect x="799.9" y="205.6" width="1.2" height="2.3" fill="#fbe3b0"/>
<path d="M799.7 208.2 L801.5 208.2 L800.5 220.4 L797.7 220.4 Z" fill="#e29a58"/>
<rect x="805.75" y="205.6" width="1.2" height="2.3" fill="#fbe3b0"/>
<path d="M805.55 208.2 L807.35 208.2 L806.35 220.4 L803.55 220.4 Z" fill="#e29a58"/>
<rect x="755.7" y="220.4" width="60.3" height="1.4" fill="#f7b873"/>
<path d="M821.1 205 L877.6 205 L877.6 220.4 L879.5 220.4 L879.5 233.6 L877.6 233.6 L877.6 247.7 L858.6 247.7 L856.6 257.6 L843.1 257.6 L841.1 247.7 L821.1 247.7 L821.1 233.6 L819.2 233.6 L819.2 220.4 L821.1 220.4 Z" fill="#f4aa61"/>
<rect x="821.1" y="205" width="56.5" height="15.4" fill="#d38a49"/>
<rect x="828.3" y="205.6" width="1.2" height="2.3" fill="#fbe3b0"/>
<path d="M828.1 208.2 L829.9 208.2 L828.9 220.4 L826.1 220.4 Z" fill="#e29a58"/>
<rect x="834.15" y="205.6" width="1.2" height="2.3" fill="#fbe3b0"/>
<path d="M833.95 208.2 L835.75 208.2 L834.75 220.4 L831.95 220.4 Z" fill="#e29a58"/>
<rect x="840" y="205.6" width="1.2" height="2.3" fill="#fbe3b0"/>
<path d="M839.8 208.2 L841.6 208.2 L840.6 220.4 L837.8 220.4 Z" fill="#e29a58"/>
<rect x="845.85" y="205.6" width="1.2" height="2.3" fill="#fbe3b0"/>
<path d="M845.65 208.2 L847.45 208.2 L846.45 220.4 L843.65 220.4 Z" fill="#e29a58"/>
<rect x="851.7" y="205.6" width="1.2" height="2.3" fill="#fbe3b0"/>
<path d="M851.5 208.2 L853.3 208.2 L852.3 220.4 L849.5 220.4 Z" fill="#e29a58"/>
<rect x="857.55" y="205.6" width="1.2" height="2.3" fill="#fbe3b0"/>
<path d="M857.35 208.2 L859.15 208.2 L858.15 220.4 L855.35 220.4 Z" fill="#e29a58"/>
<rect x="863.4" y="205.6" width="1.2" height="2.3" fill="#fbe3b0"/>
<path d="M863.2 208.2 L865 208.2 L864 220.4 L861.2 220.4 Z" fill="#e29a58"/>
<rect x="869.25" y="205.6" width="1.2" height="2.3" fill="#fbe3b0"/>
<path d="M869.05 208.2 L870.85 208.2 L869.85 220.4 L867.05 220.4 Z" fill="#e29a58"/>
<rect x="819.2" y="220.4" width="60.3" height="1.4" fill="#f7b873"/>
<path d="M884.6 205 L941.1 205 L941.1 220.4 L943 220.4 L943 233.6 L941.1 233.6 L941.1 247.7 L922.1 247.7 L920.1 257.6 L906.6 257.6 L904.6 247.7 L884.6 247.7 L884.6 233.6 L882.7 233.6 L882.7 220.4 L884.6 220.4 Z" fill="#f4aa61"/>
<rect x="884.6" y="205" width="56.5" height="15.4" fill="#d38a49"/>
<rect x="891.8" y="205.6" width="1.2" height="2.3" fill="#fbe3b0"/>
<path d="M891.6 208.2 L893.4 208.2 L892.4 220.4 L889.6 220.4 Z" fill="#e29a58"/>
<rect x="897.65" y="205.6" width="1.2" height="2.3" fill="#fbe3b0"/>
<path d="M897.45 208.2 L899.25 208.2 L898.25 220.4 L895.45 220.4 Z" fill="#e29a58"/>
<rect x="903.5" y="205.6" width="1.2" height="2.3" fill="#fbe3b0"/>
<path d="M903.3 208.2 L905.1 208.2 L904.1 220.4 L901.3 220.4 Z" fill="#e29a58"/>
<rect x="909.35" y="205.6" width="1.2" height="2.3" fill="#fbe3b0"/>
<path d="M909.15 208.2 L910.95 208.2 L909.95 220.4 L907.15 220.4 Z" fill="#e29a58"/>
<rect x="915.2" y="205.6" width="1.2" height="2.3" fill="#fbe3b0"/>
<path d="M915 208.2 L916.8 208.2 L915.8 220.4 L913 220.4 Z" fill="#e29a58"/>
<rect x="921.05" y="205.6" width="1.2" height="2.3" fill="#fbe3b0"/>
<path d="M920.85 208.2 L922.65 208.2 L921.65 220.4 L918.85 220.4 Z" fill="#e29a58"/>
<rect x="926.9" y="205.6" width="1.2" height="2.3" fill="#fbe3b0"/>
<path d="M926.7 208.2 L928.5 208.2 L927.5 220.4 L924.7 220.4 Z" fill="#e29a58"/>
<rect x="932.75" y="205.6" width="1.2" height="2.3" fill="#fbe3b0"/>
<path d="M932.55 208.2 L934.35 208.2 L933.35 220.4 L930.55 220.4 Z" fill="#e29a58"/>
<rect x="882.7" y="220.4" width="60.3" height="1.4" fill="#f7b873"/>
<rect x="976.6" y="197.8" width="42.3" height="50.5" rx="1" fill="#2a2b2c"/>
<rect x="977.6" y="198.8" width="40.3" height="48.5" fill="#2f3031" stroke="#1c1d1e" stroke-width="1"/>
<circle cx="997.2" cy="222.5" r="13.8" fill="#1b1c1d"/>
<circle cx="997.2" cy="222" r="11.5" fill="#0f1011"/>
<ellipse cx="997.5" cy="232.5" rx="6" ry="2" fill="#6e7072" opacity="0.7"/>
<circle cx="997" cy="223" r="3.1" fill="#f2f2f2"/>
<g fill="none" stroke="#0d7ab9" stroke-width="2.8" stroke-linejoin="miter">
<path d="M259 320 L259 342 L114.5 342 L114.5 358"/>
<path d="M389 287.4 L389 342.5 L291.3 342.5 L291.3 358"/>
<path d="M469.5 287.4 L469.5 358"/>
<path d="M565.6 287.4 L565.6 345.6 L648.8 345.6 L648.8 358"/>
<path d="M830.5 287.4 L830.5 358"/>
</g>
<circle cx="114.5" cy="413.5" r="57.6" fill="#018ad3"/>
<circle cx="291.5" cy="413.5" r="57.6" fill="#018ad3"/>
<circle cx="468.5" cy="413.5" r="57.6" fill="#018ad3"/>
<circle cx="649" cy="413.5" r="57.6" fill="#018ad3"/>
<circle cx="830.5" cy="413.5" r="57.6" fill="#018ad3"/>
<circle cx="997.5" cy="413.5" r="57.6" fill="#018ad3"/>
<circle cx="1153.5" cy="413.5" r="57.6" fill="#018ad3"/>
<g fill="none" stroke="#fff" stroke-width="3.3" stroke-linecap="round" stroke-linejoin="round">
<rect x="84" y="383" width="61.2" height="61" rx="5" stroke-width="3.5"/>
<circle cx="114.5" cy="413.4" r="20.9" stroke-width="3.8"/>
<circle cx="114.5" cy="413.4" r="6.9" stroke-width="3.9"/>
<rect x="262" y="383.5" width="16.5" height="56" rx="4.5"/>
<rect x="287" y="383.5" width="34" height="57" rx="3.5"/>
<path d="M287 404.5 L321 404.5"/>
<path d="M269.8 440 L269.8 442 Q269.8 447.5 276 447.5 L304 447.5"/>
<rect x="453.6" y="395.6" width="29.2" height="50.8" rx="4.5"/>
<path d="M457.8 395 L457.8 379.9 L479.8 379.9 L479.8 395" stroke-linecap="butt" stroke-linejoin="miter"/>
<g stroke-width="3.8">
<path d="M797.9 429.5 L797.9 395.5 Q797.9 389.7 803.7 389.7 L857.3 389.7 Q863.1 389.7 863.1 395.5 L863.1 429.5"/>
<path d="M790.6 430.4 L869.6 430.4 L869.6 434.4 Q869.6 437.9 866 437.9 L794.2 437.9 Q790.6 437.9 790.6 434.4 Z"/>
</g>
<g stroke-width="3.7">
<path d="M962.46 402.60 A54 54 0 0 1 1032.74 402.60"/>
<path d="M972.44 411.72 A42.2 42.2 0 0 1 1022.76 411.72"/>
<path d="M982.72 420.75 A30.7 30.7 0 0 1 1012.48 420.75"/>
<circle cx="997.6" cy="434.6" r="5.2" stroke-width="3.9"/>
</g>
<rect x="1138" y="378.2" width="30.6" height="64" rx="4.5"/>
<path d="M1138 412.2 L1168.6 412.2"/>
<path d="M1130.5 422 L1130.5 439.5 Q1130.5 450.7 1142 450.7 L1165 450.7 Q1176.4 450.7 1176.4 439.5 L1176.4 422"/>
</g>
<g fill="#fff">
<rect x="293.5" y="410.5" width="5" height="5"/>
<rect x="293.5" y="419.5" width="5" height="5"/>
<rect x="293.5" y="428.5" width="5" height="5"/>
<rect x="301.5" y="410.5" width="5" height="5"/>
<rect x="301.5" y="419.5" width="5" height="5"/>
<rect x="301.5" y="428.5" width="5" height="5"/>
<rect x="309.5" y="410.5" width="5" height="5"/>
<rect x="309.5" y="419.5" width="5" height="5"/>
<rect x="309.5" y="428.5" width="5" height="5"/>
<rect x="1143.2" y="417.1" width="5" height="5"/>
<rect x="1143.2" y="425.1" width="5" height="5"/>
<rect x="1143.2" y="433.2" width="5" height="5"/>
<rect x="1150.9" y="417.1" width="5" height="5"/>
<rect x="1150.9" y="425.1" width="5" height="5"/>
<rect x="1150.9" y="433.2" width="5" height="5"/>
<rect x="1158.6" y="417.1" width="5" height="5"/>
<rect x="1158.6" y="425.1" width="5" height="5"/>
<rect x="1158.6" y="433.2" width="5" height="5"/>
<rect x="462.2" y="383" width="13.6" height="4.7"/>
</g>
<rect x="468.4" y="383" width="1.2" height="4.7" fill="#018ad3" opacity="0.55"/>
<g fill="none" stroke="#fff" stroke-width="2.7" stroke-linecap="butt" stroke-linejoin="round">
<path d="M468.7 408 L468.7 434"/>
<path d="M468.7 433 L460.8 426 L460.8 421"/>
<path d="M468.7 427.5 L475.6 421 L475.6 415"/>
</g>
<g fill="#fff">
<path d="M468.7 401.8 L473.2 410 L464.2 410 Z"/>
<circle cx="468.5" cy="437.6" r="4.3"/>
<circle cx="460.7" cy="419.8" r="3"/>
<rect x="473" y="410.8" width="5.2" height="4.8"/>
</g>
<clipPath id="cGlobe"><path d="M600 370 L700 370 L700 460 L646 460 L646 415.3 L600 415.3 Z"/></clipPath>
<g fill="none" stroke="#fff" stroke-width="3.5" clip-path="url(#cGlobe)">
<circle cx="649.3" cy="413.3" r="29.6"/>
<ellipse cx="649.3" cy="413.3" rx="15.8" ry="29.6"/>
<path d="M649 383 L649 444"/>
<path d="M623 398.6 L676 398.6"/>
<path d="M619 413.5 L680 413.5"/>
<path d="M623 430.6 L676 430.6"/>
</g>
<g fill="none" stroke="#fff" stroke-width="3.2" stroke-linejoin="miter">
<path d="M619.2 419.1 L644.6 419.1 L644.6 438.4 L640 438.4 L640 441 L636.3 441 L636.3 442.6 L627.3 442.6 L627.3 441 L623.6 441 L623.6 438.4 L619.2 438.4 Z"/>
<path d="M623.3 425 L639.3 425" stroke-width="3.4"/>
</g>
<g opacity="0.995" font-size="26.7" fill="#181818" stroke="#181818" stroke-width="0.5">
<text y="513.5"><tspan x="80.96" textLength="64.56" lengthAdjust="spacingAndGlyphs">Fiber</tspan></text>
<text y="513.5"><tspan x="233.86" textLength="12.85" lengthAdjust="spacingAndGlyphs">1</tspan> <tspan x="252.40" textLength="14.20" lengthAdjust="spacingAndGlyphs">x</tspan> <tspan x="269.84" textLength="78.73" lengthAdjust="spacingAndGlyphs">Phone</tspan></text>
<text y="513.5"><tspan x="404.05" textLength="10.75" lengthAdjust="spacingAndGlyphs">1</tspan> <tspan x="422.00" textLength="13.62" lengthAdjust="spacingAndGlyphs">x</tspan> <tspan x="438.92" textLength="52.48" lengthAdjust="spacingAndGlyphs">USB</tspan> <tspan x="499.46" textLength="37.12" lengthAdjust="spacingAndGlyphs">3.0</tspan></text>
<text y="513.5"><tspan x="568.10" textLength="10.48" lengthAdjust="spacingAndGlyphs">1</tspan> <tspan x="587.81" textLength="13.15" lengthAdjust="spacingAndGlyphs">x</tspan> <tspan x="608.91" textLength="26.69" lengthAdjust="spacingAndGlyphs">10</tspan> <tspan x="643.39" textLength="95.64" lengthAdjust="spacingAndGlyphs">gigabit-</tspan></text>
<text y="544.6"><tspan x="591.00" textLength="125.53" lengthAdjust="spacingAndGlyphs">WAN/LAN</tspan></text>
<text y="513.5"><tspan x="768.33" textLength="13.67" lengthAdjust="spacingAndGlyphs">4</tspan> <tspan x="787.00" textLength="13.46" lengthAdjust="spacingAndGlyphs">x</tspan> <tspan x="804.46" textLength="83.54" lengthAdjust="spacingAndGlyphs">gigabit</tspan></text>
<text y="544.6"><tspan x="801.49" textLength="53.24" lengthAdjust="spacingAndGlyphs">LAN</tspan></text>
<text y="513.5"><tspan x="955.46" textLength="66.66" lengthAdjust="spacingAndGlyphs">Wi-Fi</tspan> <tspan x="1027.73" textLength="15.39" lengthAdjust="spacingAndGlyphs">7</tspan></text>
<text y="513.5"><tspan x="1122.85" textLength="66.15" lengthAdjust="spacingAndGlyphs">DECT</tspan></text>
</g>
</svg></body></html>
